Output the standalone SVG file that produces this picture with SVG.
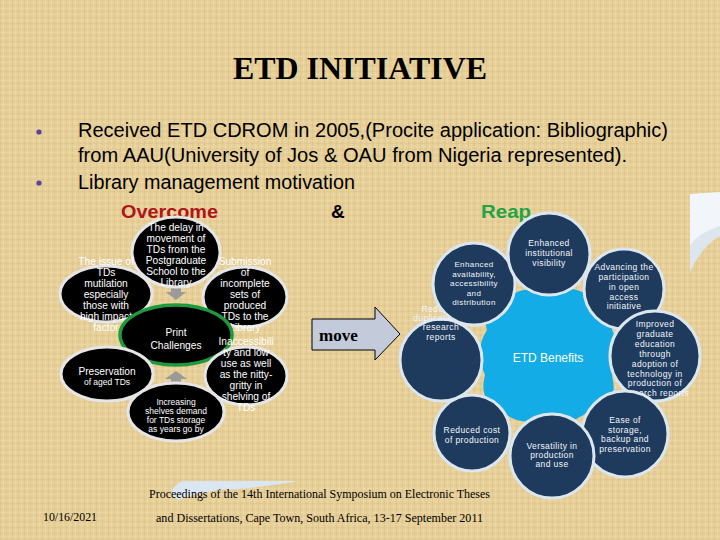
<svg xmlns="http://www.w3.org/2000/svg" width="720" height="540" viewBox="0 0 720 540">
<defs>
<pattern id="tex" width="6" height="6" patternUnits="userSpaceOnUse">
<rect width="6" height="6" fill="#E6CF98"/>
<rect x="0" y="0" width="1" height="6" fill="#D8BE84" opacity="0.45"/>
<rect x="3" y="0" width="1" height="6" fill="#F0DDAE" opacity="0.5"/>
<rect x="0" y="2" width="6" height="1" fill="#EFDCAC" opacity="0.45"/>
<rect x="0" y="5" width="6" height="1" fill="#D6BC82" opacity="0.35"/>
</pattern>
<style>
.lt{font-family:"Liberation Sans",Arial,sans-serif;fill:#FFFFFF;text-anchor:middle;font-size:10.2px}
.sm{font-size:8.5px}
.blk{fill:#000000;stroke:#E6E6E6;stroke-width:3}
.nv{fill:#1E3A5C;stroke:#DCE6EE;stroke-width:3}
.rt{font-family:"Liberation Sans",Arial,sans-serif;fill:#F2F6FA;text-anchor:middle;font-size:8.5px;letter-spacing:0.4px}
.ser{font-family:"Liberation Serif","Times New Roman",serif}
.body{font-family:"Liberation Sans",Arial,sans-serif;font-size:19.5px;fill:#000}
</style>
</defs>
<rect width="720" height="540" fill="url(#tex)"/>

<!-- decorative shapes -->
<path d="M690,194 L720,192 L720,226 Q700,238 690,272 Z" fill="#F2F5FA"/>
<path d="M690,245 Q700,232 720,226 L720,236 Q702,246 690,272 Z" fill="#DDE5EF"/>
<path d="M182,481 L297,481 Q262,488 218,490 Q196,494 178,500 Q164,492 182,481 Z" fill="#DAE6F2"/>

<text class="ser" x="360" y="79" font-size="31" font-weight="bold" text-anchor="middle" textLength="254" lengthAdjust="spacingAndGlyphs">ETD INITIATIVE</text>

<g id="bullets">
<circle cx="39" cy="132" r="2.6" fill="#5B3F9C"/>
<circle cx="39" cy="183" r="2.6" fill="#5B3F9C"/>
<text class="body" x="78" y="137" textLength="590" lengthAdjust="spacingAndGlyphs">Received ETD CDROM in 2005,(Procite application: Bibliographic)</text>
<text class="body" x="78" y="162" textLength="549" lengthAdjust="spacingAndGlyphs">from AAU(University of Jos &amp; OAU from Nigeria represented).</text>
<text class="body" x="78" y="189" textLength="277" lengthAdjust="spacingAndGlyphs">Library management motivation</text>
</g>
<g id="headings" font-family="Liberation Sans, Arial, sans-serif" font-weight="bold" font-size="19">
<text x="121" y="218" fill="#B0141A" textLength="97" lengthAdjust="spacingAndGlyphs">Overcome</text>
<text x="331" y="218" fill="#000">&amp;</text>
<text x="481" y="218" fill="#23A346" textLength="50" lengthAdjust="spacingAndGlyphs">Reap</text>
</g>

<g id="connectors">
<path d="M171,285 L181,285 L181,292 L186,292 L176,300 L166,292 L171,292 Z" fill="#9A9A9A"/>
<path d="M171,385 L181,385 L181,379 L187,379 L176,371 L165,379 L171,379 Z" fill="#9A9A9A"/>
<g id="move">
<path d="M312,319 L375,319 L375,307 L400,334 L375,360 L375,350 L312,350 Z" fill="#C3CBDA" stroke="#000" stroke-width="1"/>
<text class="ser" x="319" y="341" font-size="17" font-weight="bold" fill="#000">move</text>
</g>
</g>

<!-- left cluster -->
<g id="n-delay">
<ellipse class="blk" cx="176" cy="252" rx="44" ry="35"/>
<text class="lt" x="176" y="231">The delay in</text>
<text class="lt" x="176" y="242">movement of</text>
<text class="lt" x="176" y="253">TDs from the</text>
<text class="lt" x="176" y="264">Postgraduate</text>
<text class="lt" x="176" y="275">School to the</text>
<text class="lt" x="176" y="286">Library</text>
</g>
<g id="n-mutilation">
<ellipse class="blk" cx="106" cy="294" rx="46" ry="28"/>
<text class="lt" x="106" y="265">The issue of</text>
<text class="lt" x="106" y="276">TDs</text>
<text class="lt" x="106" y="287">mutilation</text>
<text class="lt" x="106" y="298">especially</text>
<text class="lt" x="106" y="309">those with</text>
<text class="lt" x="106" y="320">high impact</text>
<text class="lt" x="106" y="331">factor</text>
</g>
<g id="n-submission">
<ellipse class="blk" cx="245" cy="297" rx="42" ry="30"/>
<text class="lt" x="245" y="265">Submission</text>
<text class="lt" x="245" y="276">of</text>
<text class="lt" x="245" y="287">incomplete</text>
<text class="lt" x="245" y="298">sets of</text>
<text class="lt" x="245" y="309">produced</text>
<text class="lt" x="245" y="320">TDs to the</text>
<text class="lt" x="245" y="331">Library</text>
</g>
<g id="n-print">
<ellipse cx="176" cy="335" rx="56" ry="30" fill="#000" stroke="#1E9A3E" stroke-width="3.5"/>
<text class="lt" x="176" y="336" font-size="13.5">Print</text>
<text class="lt" x="176" y="349" font-size="13.5">Challenges</text>
</g>
<g id="n-preservation">
<ellipse class="blk" cx="107" cy="374" rx="46" ry="27"/>
<text class="lt" x="107" y="375">Preservation</text>
<text class="lt sm" x="107" y="385" font-size="8">of aged TDs</text>
</g>
<g id="n-inaccess">
<ellipse class="blk" cx="246" cy="376" rx="41" ry="29"/>
<text class="lt" x="246" y="345">Inaccessibili</text>
<text class="lt" x="246" y="356">ty and low</text>
<text class="lt" x="246" y="367">use as well</text>
<text class="lt" x="246" y="378">as the nitty-</text>
<text class="lt" x="246" y="389">gritty in</text>
<text class="lt" x="246" y="400">shelving of</text>
<text class="lt" x="246" y="411">TDs</text>
</g>
<g id="n-increasing">
<ellipse class="blk" cx="176" cy="412" rx="48" ry="29"/>
<text class="lt sm" x="176" y="405">Increasing</text>
<text class="lt sm" x="176" y="414">shelves demand</text>
<text class="lt sm" x="176" y="423">for TDs storage</text>
<text class="lt sm" x="176" y="432">as years go by</text>
</g>

<!-- right cluster -->
<g id="n-benefits">
<path d="M505,300 Q522,284 546,292 Q572,282 592,298 Q616,302 612,330 Q626,355 612,376 Q620,406 590,410 Q570,428 545,418 Q520,428 500,410 Q478,400 485,375 Q474,350 487,330 Q480,305 505,300 Z" fill="#14ACE6"/>
<text x="548" y="362" font-family="Liberation Sans, Arial, sans-serif" font-size="12" fill="#FFFFFF" text-anchor="middle">ETD Benefits</text>
</g>
<g id="n-reports">
<circle class="nv" cx="441" cy="360" r="41"/>
<text class="rt" x="441" y="312">Reducing</text>
<text class="rt" x="441" y="321">duplication of</text>
<text class="rt" x="441" y="330">research</text>
<text class="rt" x="441" y="340">reports</text>
</g>
<g id="n-availability">
<circle class="nv" cx="474" cy="284" r="41"/>
<g font-size="8px">
<text class="rt" x="474" y="267" style="font-size:8px">Enhanced</text>
<text class="rt" x="474" y="276.5" style="font-size:8px">availability,</text>
<text class="rt" x="474" y="286" style="font-size:8px">accessibility</text>
<text class="rt" x="474" y="295.5" style="font-size:8px">and</text>
<text class="rt" x="474" y="305" style="font-size:8px">distribution</text>
</g>
</g>
<g id="n-advancing">
<circle class="nv" cx="624" cy="289" r="40"/>
<text class="rt" x="624" y="270">Advancing the</text>
<text class="rt" x="624" y="280">participation</text>
<text class="rt" x="624" y="290">in open</text>
<text class="rt" x="624" y="300">access</text>
<text class="rt" x="624" y="309">initiative</text>
</g>
<g id="n-visibility">
<circle class="nv" cx="549" cy="254" r="41"/>
<text class="rt" x="549" y="246">Enhanced</text>
<text class="rt" x="549" y="256">institutional</text>
<text class="rt" x="549" y="266">visibility</text>
</g>
<g id="n-improved">
<circle class="nv" cx="655" cy="356" r="45"/>
<text class="rt" x="655" y="327">Improved</text>
<text class="rt" x="655" y="337">graduate</text>
<text class="rt" x="655" y="347">education</text>
<text class="rt" x="655" y="357">through</text>
<text class="rt" x="655" y="367">adoption of</text>
<text class="rt" x="655" y="377">technology in</text>
<text class="rt" x="655" y="386">production of</text>
<text class="rt" x="655" y="396">research reports</text>
</g>
<g id="n-reduced">
<circle class="nv" cx="472" cy="433" r="38"/>
<text class="rt" x="472" y="433">Reduced cost</text>
<text class="rt" x="472" y="443">of production</text>
</g>
<g id="n-ease">
<circle class="nv" cx="625" cy="434" r="43"/>
<text class="rt" x="625" y="423">Ease of</text>
<text class="rt" x="625" y="433">storage,</text>
<text class="rt" x="625" y="442">backup and</text>
<text class="rt" x="625" y="452">preservation</text>
</g>
<g id="n-versatility">
<circle class="nv" cx="552" cy="456" r="42"/>
<text class="rt" x="552" y="449">Versatility in</text>
<text class="rt" x="552" y="458">production</text>
<text class="rt" x="552" y="467">and use</text>
</g>

<g id="footer" class="ser" fill="#000" font-size="12">
<text x="43" y="521" textLength="54" lengthAdjust="spacingAndGlyphs">10/16/2021</text>
<text x="149" y="498" textLength="341" lengthAdjust="spacingAndGlyphs">Proceedings of the 14th International Symposium on Electronic Theses</text>
<text x="156" y="522" textLength="327" lengthAdjust="spacingAndGlyphs">and Dissertations, Cape Town, South Africa, 13-17 September 2011</text>
</g>
</svg>
